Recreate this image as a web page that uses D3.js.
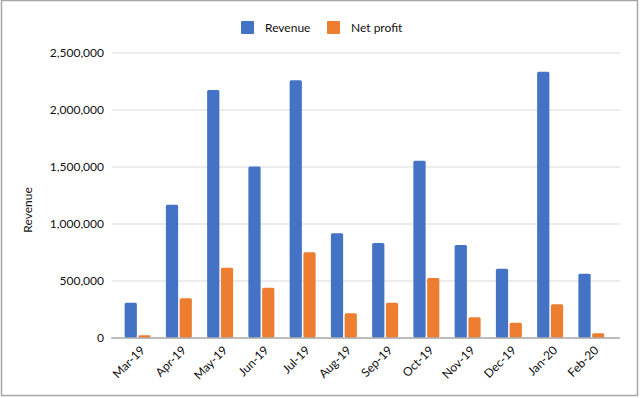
<!DOCTYPE html>
<html>
  <head>
    <meta charset="utf-8">
    <title>Revenue and net profit</title>
    <script src="https://cdn.jsdelivr.net/npm/d3@7"></script>
    <style>
      body { margin: 0; background: #fff; }
      svg { display: block; font-family: Lato, "Open Sans", sans-serif; }
      .grid line { stroke: #d9d9d9; }
      .tick text { fill: #111; }
    </style>
  </head>

  <body>
    <svg id="chart" width="640" height="398"></svg>

    <script>
      // data
      months = ["Mar-19", "Apr-19", "May-19", "Jun-19", "Jul-19", "Aug-19",
        "Sep-19", "Oct-19", "Nov-19", "Dec-19", "Jan-20", "Feb-20"];
      revenue = [305000, 1165000, 2171000, 1500000, 2256000, 914000,
        829000, 1551000, 811000, 604000, 2332000, 560000];
      netProfit = [20000, 344000, 612000, 437000, 747000, 212000,
        305000, 522000, 177000, 130000, 291000, 37000];
      series = ["Revenue", "Net profit"];
      colours = ["#4472c4", "#ed7d31"];
      yTicks = [0, 500000, 1000000, 1500000, 2000000, 2500000];

      rows = months.map(function(m, i) {
        return {month: m, values: [revenue[i], netProfit[i]]};
      });

      // page elements
      svg = d3.select("#chart");

      // frame
      svg.append("rect")
        .attr("x", 1.5)
        .attr("y", 0.5)
        .attr("width", 636)
        .attr("height", 395)
        .attr("fill", "none")
        .attr("stroke", "#a6a6a6")
        .attr("stroke-width", 1.5);

      // scales
      x0 = d3.scaleBand()
        .domain(months)
        .range([117, 612])
        .paddingInner(0.37)
        .paddingOuter(0.185);
      x1 = d3.scaleBand()
        .domain(d3.range(series.length))
        .range([0, x0.bandwidth()])
        .paddingInner(0.11);
      y = d3.scaleLinear()
        .domain([0, 2500000])
        .range([337.5, 52.5]);

      // grid + y labels
      yAxis = svg.append("g")
        .attr("class", "grid")
        .attr("transform", "translate(112,0)")
        .call(d3.axisLeft(y)
          .tickValues(yTicks)
          .tickSize(-508)
          .tickPadding(8)
          .tickFormat(d3.format(",")));
      yAxis.select(".domain").remove();
      yAxis.selectAll(".tick text")
        .attr("font-size", 12)
        .attr("font-family", "Lato, sans-serif");
      yAxis.selectAll(".tick line")
        .filter(function(d) { return d == 0; })
        .attr("stroke", "#8c8c8c");

      // bars
      groups = svg.append("g").selectAll("g")
        .data(rows)
        .join("g")
          .attr("transform", function(d) {
            return "translate(" + x0(d.month) + ",0)";
          });
      groups.selectAll("rect")
        .data(function(d) { return d.values; })
        .join("rect")
          .attr("x", function(d, i) { return x1(i); })
          .attr("y", function(d) { return y(d); })
          .attr("width", x1.bandwidth())
          .attr("height", function(d) { return y(0) - y(d); })
          .attr("rx", 1.5)
          .attr("fill", function(d, i) { return colours[i]; });

      // baseline over bars
      svg.append("line")
        .attr("x1", 111)
        .attr("x2", 620)
        .attr("y1", y(0) + 0.5)
        .attr("y2", y(0) + 0.5)
        .attr("stroke", "#8c8c8c");

      // x labels
      svg.append("g").selectAll("text")
        .data(months)
        .join("text")
          .attr("transform", function(d) {
            return "translate(" + (x0(d) + x0.bandwidth() / 2 + 8) + ",351) rotate(-45)";
          })
          .attr("text-anchor", "end")
          .attr("font-size", 12)
          .attr("fill", "#111")
          .text(function(d) { return d; });

      // y title
      svg.append("text")
        .attr("transform", "translate(32,210) rotate(-90)")
        .attr("text-anchor", "middle")
        .attr("font-size", 12)
        .attr("fill", "#111")
        .text("Revenue");

      // legend
      legend = svg.append("g").selectAll("g")
        .data(series)
        .join("g")
          .attr("transform", function(d, i) {
            return "translate(" + [241, 327][i] + ",21)";
          });
      legend.append("rect")
        .attr("width", 13)
        .attr("height", 13)
        .attr("rx", 1)
        .attr("fill", function(d, i) { return colours[i]; });
      legend.append("text")
        .attr("x", 24)
        .attr("y", 11)
        .attr("font-size", 12)
        .attr("fill", "#111")
        .text(function(d) { return d; });
    </script>
  </body>
</html>
